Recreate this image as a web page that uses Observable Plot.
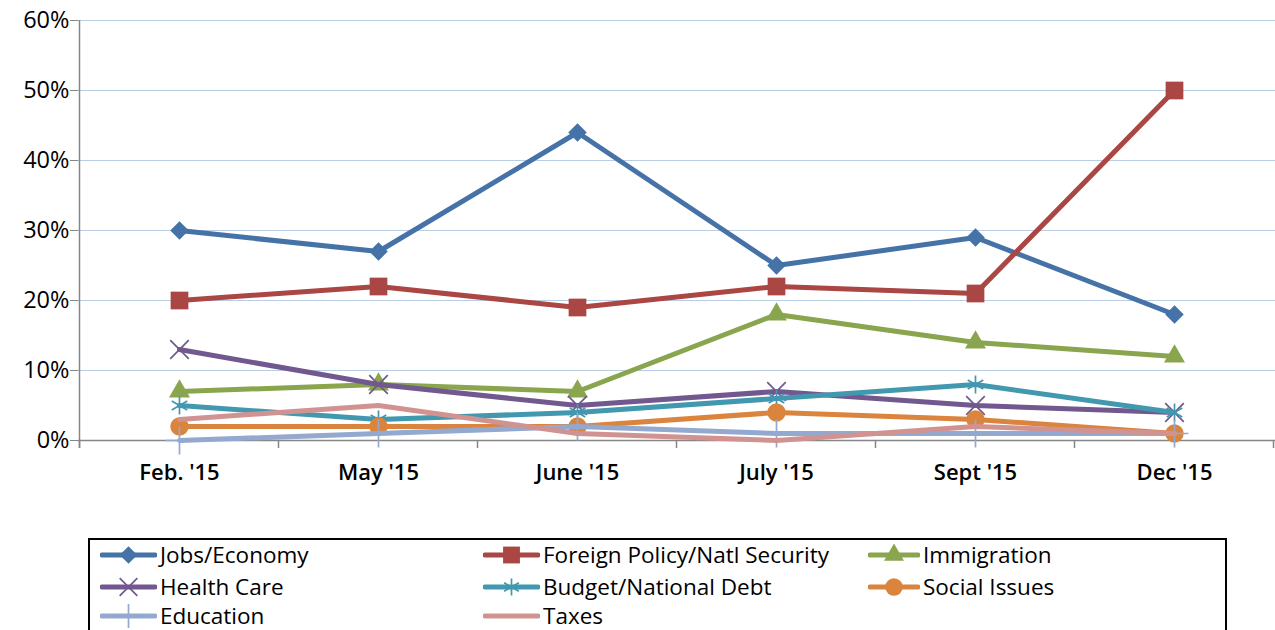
<!DOCTYPE html>
<html><head><meta charset="utf-8">
<script src="https://cdn.jsdelivr.net/npm/d3@7"></script>
<script src="https://cdn.jsdelivr.net/npm/@observablehq/plot@0.6"></script>
<style>
body{margin:0;background:#fff;font-family:"Open Sans",sans-serif;}
#wrap{position:relative;width:1275px;height:630px;overflow:hidden;}
#chart{position:absolute;left:0;top:0;}
#legend{position:absolute;left:88px;top:538px;width:1139px;height:120px;border:2px solid #000;box-sizing:border-box;}
.item{position:absolute;display:flex;align-items:center;font-size:22.5px;line-height:1;color:#000;white-space:nowrap;height:24px;}
.item svg{margin-right:3px;}
</style></head>
<body><div id="wrap"><div id="chart"></div><div id="legend"></div></div>
<script>
const categories = ["Feb. '15","May '15","June '15","July '15","Sept '15","Dec '15"];
const seriesNames = ["Jobs/Economy","Foreign Policy/Natl Security","Immigration","Health Care","Budget/National Debt","Social Issues","Education","Taxes"];
const jobsEconomy = [30,27,44,25,29,18];
const foreignPolicy = [20,22,19,22,21,50];
const immigration = [7,8,7,18,14,12];
const healthCare = [13,8,5,7,5,4];
const budgetDebt = [5,3,4,6,8,4];
const socialIssues = [2,2,2,4,3,1];
const education = [0,1,2,1,1,1];
const taxes = [3,5,1,0,2,1];
const yTicks = [0,10,20,30,40,50,60];

const colors = ["#4572A7","#AA4643","#89A54E","#71588F","#4198AF","#DB843D","#93A9CF","#D19392"];
const symbols = ["square","square","triangle","times","asterisk","circle","plus",null];
const rotates = [45,0,0,0,0,0,0,0];
const radii = [7.4,10,7.8,8.5,8.5,9.2,9,0];
const strokeSym = [false,false,false,true,true,false,true,false];
const values = [jobsEconomy,foreignPolicy,immigration,healthCare,budgetDebt,socialIssues,education,taxes];

const tables = values.map((vals,i)=>vals.map((v,j)=>({cat:categories[j],value:v,series:seriesNames[i]})));

const marks = [
  Plot.ruleY(yTicks.filter(d=>d>0), {stroke:"#B9CDE5", strokeWidth:1.2}),
  Plot.axisY({ticks:yTicks, tickFormat:d=>d+"%", tickSize:8, tickPadding:1, fontSize:23.5, stroke:"#868686", label:null}),
  Plot.axisX({tickSize:0, tickPadding:24, fontSize:22, fontWeight:600, label:null}),
  Plot.ruleY([0], {stroke:"#868686", strokeWidth:1.5}),
  (index, scales, vals, dims) => {
    const g = d3.create("svg:g");
    const step = scales.x(categories[1]) - scales.x(categories[0]);
    const y0 = scales.y(0), y1 = scales.y(60);
    const x0 = scales.x(categories[0]) - step/2;
    g.append("line").attr("x1",x0).attr("x2",x0).attr("y1",y1).attr("y2",y0+8).attr("stroke","#868686").attr("stroke-width",1.5);
    for (let k=0;k<=categories.length;k++){
      const xx = x0 + k*step;
      g.append("line").attr("x1",xx).attr("x2",xx).attr("y1",y0).attr("y2",y0+8).attr("stroke","#868686").attr("stroke-width",1.5);
    }
    return g.node();
  }
];
tables.forEach((t,i)=>{
  marks.push(Plot.lineY(t,{x:"cat", y:"value", stroke:colors[i], strokeWidth:5}));
  if (symbols[i]) {
    const opts = {x:"cat", y:"value", symbol:symbols[i], r:radii[i], rotate:rotates[i]};
    if (strokeSym[i]) Object.assign(opts,{stroke:colors[i], strokeWidth:1.7, fill:"none"});
    else Object.assign(opts,{fill:colors[i], stroke:"none"});
    marks.push(Plot.dot(t,opts));
  }
});

const chart = Plot.plot({
  width:1275, height:530,
  marginTop:20, marginBottom:90, marginLeft:78, marginRight:0,
  style:{fontFamily:"'Open Sans', sans-serif", color:"#000", background:"#fff"},
  x:{type:"point", domain:categories, padding:0.5},
  y:{domain:[0,60]},
  marks
});
document.getElementById("chart").appendChild(chart);

// legend
const legend = d3.select("#legend");
const colX = [10, 393, 778];
const rowY = [3, 35, 64];
seriesNames.forEach((name,i)=>{
  const col = i%3, row = Math.floor(i/3);
  const item = legend.append("div").attr("class","item")
    .style("left",colX[col]+"px").style("top",rowY[row]+"px");
  const w = col===2 ? 52 : 57;
  const svg = item.append("svg").attr("width",w).attr("height",24);
  svg.append("line").attr("x1",2).attr("x2",w-2).attr("y1",12).attr("y2",12)
    .attr("stroke",colors[i]).attr("stroke-width",5).attr("stroke-linecap","round");
  if (symbols[i]) {
    const symMap = {square:d3.symbolSquare, triangle:d3.symbolTriangle, times:d3.symbolTimes, asterisk:d3.symbolAsterisk, circle:d3.symbolCircle, plus:d3.symbolPlus};
    const r = radii[i]*0.95;
    const p = svg.append("path").attr("d", d3.symbol(symMap[symbols[i]], Math.PI*r*r)())
      .attr("transform",`translate(${w/2},12) rotate(${rotates[i]})`);
    if (strokeSym[i]) p.attr("fill","none").attr("stroke",colors[i]).attr("stroke-width",1.7);
    else p.attr("fill",colors[i]);
  }
  item.append("span").text(name);
});
</script></body></html>
